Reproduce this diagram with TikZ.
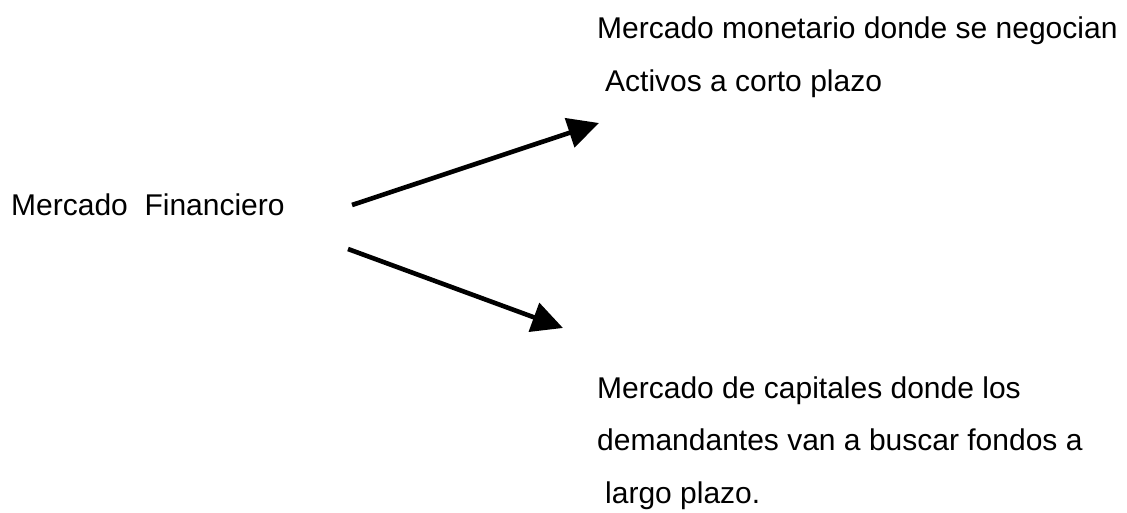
\documentclass[tikz,border=0pt]{standalone}
\usepackage{fontspec}
\setmainfont{Liberation Sans}
\usetikzlibrary{arrows.meta}
\begin{document}
\begin{tikzpicture}[x=1pt,y=-1pt,
  txt/.style={anchor=base west,inner sep=0pt,font=\fontsize{30}{36}\selectfont},
  conn/.style={line width=4.6pt,-{Triangle[length=31pt,width=30pt]}}]
\useasboundingbox (0,0) rectangle (1127,513);
\node[txt] (fin) at (11,215) {Mercado\ \ Financiero};
\node[txt] (mon1) at (597,39) {Mercado monetario donde se negocian};
\node[txt] (mon2) at (605,92) {Activos a corto plazo};
\node[txt] (cap1) at (597,398) {Mercado de capitales donde los};
\node[txt] (cap2) at (597,450) {demandantes van a buscar fondos a};
\node[txt] (cap3) at (605,503) {largo plazo.};
\coordinate (s1) at (352,205);
\coordinate (e1) at (599,123);
\coordinate (s2) at (348,249);
\coordinate (e2) at (563,328);
\draw[conn] (s1) -- (e1);
\draw[conn] (s2) -- (e2);
\end{tikzpicture}
\end{document}
